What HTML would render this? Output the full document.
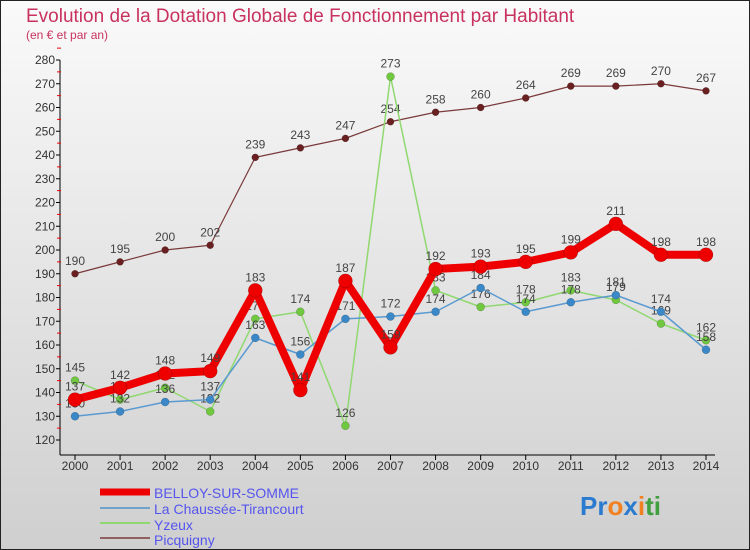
<!DOCTYPE html>
<html><head><meta charset="utf-8"><style>
body{margin:0;}
svg{display:block;font-family:"Liberation Sans",sans-serif;}
</style></head><body>
<svg id="chart" width="750" height="550" xmlns="http://www.w3.org/2000/svg">
<defs><linearGradient id="bg" x1="0" y1="0" x2="0" y2="1"><stop offset="0" stop-color="#fafafa"/><stop offset="1" stop-color="#cfcfcf"/></linearGradient></defs>
<rect x="0.5" y="0.5" width="749" height="549" fill="url(#bg)" stroke="#222"/>
<text x="26" y="22" font-size="19" fill="#c8325e">Evolution de la Dotation Globale de Fonctionnement par Habitant</text>
<text x="26" y="39" font-size="12" fill="#c8325e">(en € et par an)</text>
<g id="axes"></g><g id="series"></g>
<g>
<line x1="100" y1="492" x2="150" y2="492" stroke="#ee0000" stroke-width="7"/>
<text x="154" y="498" font-size="14" fill="#5555ee">BELLOY-SUR-SOMME</text>
<line x1="100" y1="508" x2="150" y2="508" stroke="#6fa3cc" stroke-width="2"/>
<text x="154" y="514" font-size="14" fill="#5555ee">La Chaussée-Tirancourt</text>
<line x1="100" y1="523" x2="150" y2="523" stroke="#8fd870" stroke-width="2"/>
<text x="154" y="530" font-size="14" fill="#5555ee">Yzeux</text>
<line x1="100" y1="538" x2="150" y2="538" stroke="#906060" stroke-width="2"/>
<text x="154" y="545" font-size="14" fill="#5555ee">Picquigny</text>
</g>
<text x="580" y="515" font-size="26" font-weight="bold"><tspan fill="#2a7bd0">Pr</tspan><tspan fill="#f08020">o</tspan><tspan fill="#2a7bd0">x</tspan><tspan fill="#f08020">i</tspan><tspan fill="#40a040">ti</tspan></text>
</svg>
<script>
const years=[2000,2001,2002,2003,2004,2005,2006,2007,2008,2009,2010,2011,2012,2013,2014];
const belloy=[137,142,148,149,183,141,187,159,192,193,195,199,211,198,198];
const chaussee=[130,132,136,137,163,156,171,172,174,184,174,178,181,174,158];
const yzeux=[145,137,142,132,171,174,126,273,183,176,178,183,179,169,162];
const picquigny=[190,195,200,202,239,243,247,254,258,260,264,269,269,270,267];
const yTicks=[120,130,140,150,160,170,180,190,200,210,220,230,240,250,260,270,280];
const NS="http://www.w3.org/2000/svg";
function xs(i){return 75+i*(706-75)/(years.length-1);}
function ys(v){return 440-(v-120)*380/160;}
function mk(tag,attrs,parent){const e=document.createElementNS(NS,tag);for(const k in attrs)e.setAttribute(k,attrs[k]);parent.appendChild(e);return e;}
const ax=document.getElementById('axes');
let l=mk('line',{x1:60,y1:ys(280),x2:60,y2:ys(120)+15,stroke:'#000'},ax);


l=mk('line',{x1:60,y1:455,x2:715,y2:455,stroke:'#000'},ax);


yTicks.forEach(v=>{
 mk('line',{x1:56,y1:ys(v),x2:60,y2:ys(v),stroke:'#000'},ax);
 mk('line',{x1:57,y1:ys(v+5),x2:61,y2:ys(v+5),stroke:'#e00'},ax);
 const t=mk('text',{x:55,y:ys(v)+4,'font-size':12,fill:'#333','text-anchor':'end'},ax);
 t.textContent=v;
 
 
});
years.forEach((y,i)=>{
 mk('line',{x1:xs(i),y1:455,x2:xs(i),y2:460,stroke:'#000'},ax);
 const t=mk('text',{x:xs(i),y:470,'font-size':12,fill:'#333','text-anchor':'middle'},ax);
 t.textContent=y;
 
 
});
const sg=document.getElementById('series');
function draw(data,name,color,w,r,dot){
 const g=mk('g',{},sg);
 
 
 const p=mk('polyline',{points:data.map((v,i)=>xs(i)+','+ys(v)).join(' '),fill:'none',stroke:color,'stroke-width':w,'stroke-linejoin':'round'},g);
 
 
 data.forEach((v,i)=>{
  const c=mk('circle',{cx:xs(i),cy:ys(v),r:r,fill:dot,stroke:'rgba(0,0,0,0.3)','stroke-width':0.5},g);
  
  
  const t=mk('text',{x:xs(i),y:ys(v)-9,'font-size':12,fill:'#444','text-anchor':'middle'},g);
  t.textContent=v;
  
  
 });
}
draw(picquigny,'picquigny','#7a3a3a',1.2,3.5,'#6a2020');
draw(yzeux,'yzeux','#90d870',1.5,4,'#70c840');
draw(chaussee,'chaussee','#5a9ad0',1.5,4,'#3a88c8');
draw(belloy,'belloy','#ee0000',8,7,'#ee0000');
</script>
</body></html>
